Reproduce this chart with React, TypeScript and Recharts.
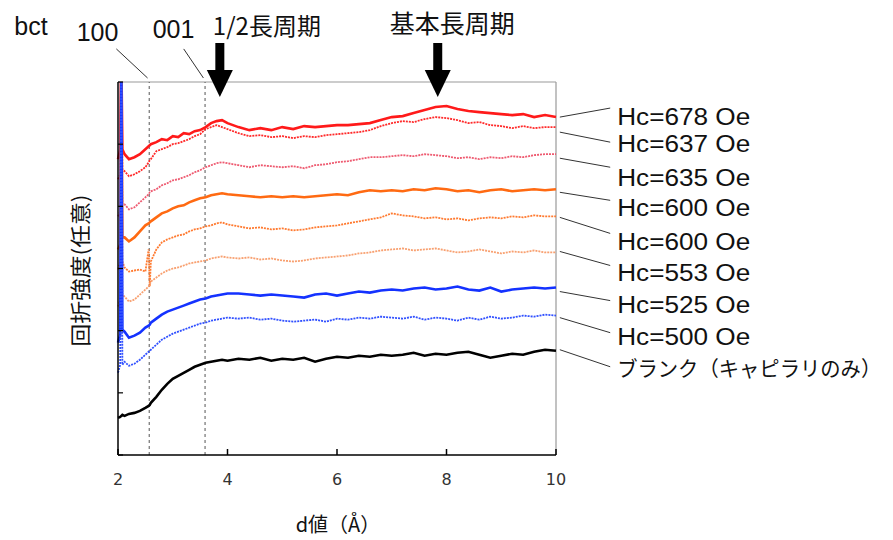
import React from "react";
import { LineChart, Line, XAxis, YAxis, ReferenceLine, ReferenceDot } from "recharts";

// d value (Å)
const D_VALUES = [
  2.0, 2.04, 2.06, 2.08, 2.12, 2.2, 2.3, 2.4, 2.5, 2.56, 2.58, 2.6, 2.7, 2.8, 2.9, 3.0, 3.1, 3.2, 3.3, 3.4,
  3.5, 3.6, 3.7, 3.8, 3.9, 4.0, 4.2, 4.4, 4.6, 4.8, 5.0, 5.2, 5.4, 5.6, 5.8, 6.0, 6.2, 6.4, 6.6, 6.8,
  7.0, 7.2, 7.4, 7.6, 7.8, 8.0, 8.2, 8.4, 8.6, 8.8, 9.0, 9.2, 9.4, 9.6, 9.8, 10.0,
];

// intensity (arb. units), offset stacked
const HC678 = [
  295, 305, 400, 305, 300, 295, 297, 300, 305, 308, 309, 310, 312, 315, 314, 318, 317, 321, 320, 323,
  324, 327, 331, 333, 334, 331, 327, 324, 326, 324, 327, 325, 328, 327, 328, 329, 329, 330, 331, 334,
  337, 338, 341, 344, 347, 348, 345, 343, 342, 341, 340, 339, 340, 337, 339, 337,
];
const HC637 = [
  275, 280, 400, 285, 283, 278, 280, 283, 287, 292, 294, 295, 303, 305, 307, 310, 311, 313, 315, 318,
  320, 325, 327, 329, 327, 325, 321, 318, 319, 317, 318, 316, 318, 317, 319, 320, 321, 322, 324, 328,
  331, 333, 332, 335, 337, 336, 334, 331, 332, 329, 328, 326, 328, 326, 327, 327,
];
const HC635 = [
  238, 243, 400, 250, 250, 245, 247, 252, 257, 260, 262, 263, 265, 269, 271, 274, 275, 277, 279, 282,
  284, 287, 289, 291, 292, 291, 289, 287, 289, 288, 287, 288, 286, 289, 290, 292, 293, 295, 297, 297,
  298, 299, 298, 300, 299, 298, 296, 297, 295, 297, 296, 298, 297, 299, 300, 300,
];
const HC600A = [
  205, 210, 400, 217, 217, 213, 217, 223, 229, 231, 232, 233, 237, 241, 243, 246, 248, 249, 252, 254,
  256, 257, 259, 260, 261, 260, 259, 258, 257, 258, 257, 258, 257, 258, 259, 260, 259, 262, 264, 263,
  264, 263, 265, 264, 266, 265, 263, 264, 262, 264, 265, 263, 264, 265, 264, 265,
];
const HC600B = [
  185, 193, 400, 193, 187, 183, 184, 185, 183, 205, 168, 193, 205, 212, 215, 217, 219, 220, 223, 225,
  226, 228, 229, 231, 232, 230, 228, 226, 227, 225, 226, 224, 225, 227, 228, 229, 231, 233, 235, 237,
  241, 239, 238, 236, 237, 235, 236, 234, 236, 237, 236, 238, 237, 239, 238, 238,
];
const HC553 = [
  148, 155, 400, 160, 158, 153, 155, 160, 165, 168, 170, 173, 177, 181, 184, 186, 187, 189, 191, 192,
  193, 194, 196, 197, 198, 197, 196, 197, 195, 196, 194, 193, 194, 196, 197, 198, 199, 201, 202, 204,
  205, 206, 204, 205, 206, 204, 202, 203, 205, 203, 201, 203, 202, 204, 202, 202,
];
const HC525 = [
  112, 120, 400, 125, 123, 117, 119, 122, 127, 129, 130, 132, 136, 140, 143, 145, 147, 149, 151, 153,
  155, 156, 158, 159, 160, 161, 161, 160, 159, 160, 159, 158, 157, 160, 161, 159, 161, 163, 162, 164,
  165, 164, 166, 167, 165, 166, 168, 165, 164, 167, 163, 165, 166, 167, 166, 167,
];
const HC500 = [
  82, 90, 400, 90, 93, 89, 91, 95, 100, 103, 104, 105, 110, 115, 118, 121, 123, 125, 127, 129,
  131, 132, 134, 135, 136, 137, 136, 137, 135, 136, 134, 133, 134, 135, 133, 136, 135, 137, 136, 138,
  137, 136, 138, 135, 137, 136, 134, 137, 135, 138, 136, 137, 139, 138, 140, 139,
];
const BLANK = [
  37, 38, 39, 40, 39, 41, 42, 44, 47, 49, 50, 52, 58, 65, 71, 76, 79, 82, 85, 88,
  90, 92, 93, 94, 95, 94, 96, 95, 97, 94, 96, 95, 97, 93, 96, 98, 97, 99, 98, 100,
  99, 100, 102, 99, 101, 100, 102, 103, 100, 97, 99, 101, 100, 103, 105, 104,
];

const X_TICKS = [2, 4, 6, 8, 10];
const Y_TICKS = [0, 62, 124, 186, 248, 310, 372];

const SERIES = [
  { key: "hc678", name: "Hc=678 Oe", values: HC678, color: "#ff1a1a", dashed: false },
  { key: "hc637", name: "Hc=637 Oe", values: HC637, color: "#ff2a2a", dashed: true },
  { key: "hc635", name: "Hc=635 Oe", values: HC635, color: "#ee5a70", dashed: true },
  { key: "hc600a", name: "Hc=600 Oe", values: HC600A, color: "#ff6a12", dashed: false },
  { key: "hc600b", name: "Hc=600 Oe", values: HC600B, color: "#ff7a30", dashed: true },
  { key: "hc553", name: "Hc=553 Oe", values: HC553, color: "#f8a070", dashed: true },
  { key: "hc525", name: "Hc=525 Oe", values: HC525, color: "#1432ff", dashed: false },
  { key: "hc500", name: "Hc=500 Oe", values: HC500, color: "#3050ff", dashed: true },
  { key: "blank", name: "ブランク（キャピラリのみ）", values: BLANK, color: "#000000", dashed: false },
];

// leader line: curve end value -> label value
const LEADER_FROM = [337, 322, 296, 262, 237, 203, 163, 137, 105];
const LEADER_TO = [346, 312, 287, 254, 221, 189, 154, 122, 88];
const LABEL_AT = [337, 310, 276, 246, 212, 182, 150, 118, 88];

const data = D_VALUES.map((d, i) => {
  const row: Record<string, number> = { d };
  SERIES.forEach((s) => {
    row[s.key] = s.values[i];
  });
  return row;
});

const JP = "'Noto Sans CJK JP', sans-serif";
const LATIN = "'Liberation Sans', Arial, 'Noto Sans CJK JP', sans-serif";

function XTick(props: any) {
  const { x, y, payload } = props;
  return (
    <g>
      <line x1={x} x2={x} y1={y} y2={y - 6} stroke="#000" strokeWidth={1.5} />
      <text x={x} y={y + 30} textAnchor="middle" fontSize={16} fontFamily="'DejaVu Sans', sans-serif" fill="#333">
        {payload.value}
      </text>
    </g>
  );
}

function YTick(props: any) {
  const { x, y } = props;
  return <line x1={x} x2={x + 5} y1={y} y2={y} stroke="#000" strokeWidth={1.2} />;
}

function Arrow({ cx, cy }: { cx: number; cy: number }) {
  return (
    <g>
      <rect x={cx - 4.5} y={cy - 39} width={9} height={28} fill="#000" />
      <polygon points={`${cx - 13},${cy - 12} ${cx + 13},${cy - 12} ${cx},${cy + 15}`} fill="#000" />
    </g>
  );
}

export default function App() {
  return (
    <div style={{ position: "absolute", left: 0, top: 0, background: "#fff" }}>
      <LineChart width={893} height={540} data={data} margin={{ top: 82, right: 337, bottom: 75, left: 108 }}>
        <XAxis
          dataKey="d"
          type="number"
          domain={[2, 10]}
          ticks={X_TICKS}
          height={10}
          tickSize={0}
          tickMargin={0}
          tick={<XTick />}
          axisLine={{ stroke: "#000", strokeWidth: 1.5 }}
          tickLine={false}
          label={{
            content: ({ viewBox }: any) => (
              <text
                x={viewBox.x + viewBox.width / 2 + 1}
                y={viewBox.y + 77}
                textAnchor="middle"
                fontSize={20}
                fontFamily={JP}
                fill="#111"
              >
                d値（Å）
              </text>
            ),
          }}
        />
        <YAxis
          type="number"
          domain={[0, 372]}
          ticks={Y_TICKS}
          allowDataOverflow
          width={10}
          tickSize={0}
          tickMargin={0}
          tick={<YTick />}
          axisLine={{ stroke: "#000", strokeWidth: 1.5 }}
          tickLine={false}
          label={{
            content: ({ viewBox }: any) => {
              const cx = viewBox.x + viewBox.width - 39;
              const cy = viewBox.y + viewBox.height / 2 + 2;
              return (
                <text
                  x={cx}
                  y={cy}
                  transform={`rotate(-90 ${cx} ${cy})`}
                  textAnchor="middle"
                  dominantBaseline="central"
                  fontSize={21}
                  textLength={152}
                  lengthAdjust="spacingAndGlyphs"
                  fontFamily={JP}
                  fill="#111"
                >
                  回折強度(任意)
                </text>
              );
            },
          }}
        />
        <ReferenceLine y={372} stroke="#999" strokeWidth={1.2} />
        <ReferenceLine x={10} stroke="#999" strokeWidth={1.2} />
        <ReferenceLine x={2.57} stroke="#555" strokeDasharray="3 3" />
        <ReferenceLine x={3.59} stroke="#555" strokeDasharray="3 3" />
        {SERIES.map((s) => (
          <Line
            key={s.key}
            dataKey={s.key}
            type="linear"
            stroke={s.color}
            strokeWidth={s.dashed ? 1.8 : 2.6}
            strokeDasharray={s.dashed ? "2 1" : undefined}
            dot={false}
            isAnimationActive={false}
          />
        ))}
        {/* peak leaders */}
        <ReferenceLine
          segment={[{ x: 1.97, y: 405 }, { x: 2.54, y: 376 }]}
          ifOverflow="visible"
          stroke="#333"
        />
        <ReferenceLine
          segment={[{ x: 3.2, y: 405 }, { x: 3.56, y: 376 }]}
          ifOverflow="visible"
          stroke="#333"
        />
        <ReferenceDot
          x={1.97}
          y={405}
          ifOverflow="visible"
          shape={(p: any) => (
            <g fontFamily={LATIN} fontSize={25} fill="#111">
              <text x={p.cx - 102} y={p.cy - 14}>bct</text>
              <text x={p.cx + 2} y={p.cy - 8} textAnchor="end">100</text>
            </g>
          )}
        />
        <ReferenceDot
          x={3.2}
          y={405}
          ifOverflow="visible"
          shape={(p: any) => (
            <text x={p.cx - 31} y={p.cy - 11} fontFamily={LATIN} fontSize={25} fill="#111">
              001
            </text>
          )}
        />
        <ReferenceDot
          x={3.86}
          y={372}
          ifOverflow="visible"
          shape={(p: any) => (
            <g>
              <Arrow cx={p.cx} cy={p.cy} />
              <text x={p.cx - 7} y={p.cy - 47} fontFamily={JP} fontSize={24} fill="#111">
                1/2長周期
              </text>
            </g>
          )}
        />
        <ReferenceDot
          x={7.84}
          y={372}
          ifOverflow="visible"
          shape={(p: any) => (
            <g>
              <Arrow cx={p.cx} cy={p.cy} />
              <text x={p.cx - 48} y={p.cy - 49} fontFamily={JP} fontSize={25} fill="#111">
                基本長周期
              </text>
            </g>
          )}
        />
        {/* series labels */}
        {SERIES.map((s, i) => (
          <ReferenceLine
            key={`lead-${s.key}`}
            segment={[{ x: 10.07, y: LEADER_FROM[i] }, { x: 10.99, y: LEADER_TO[i] }]}
            ifOverflow="visible"
            stroke="#333"
          />
        ))}
        {SERIES.map((s, i) => (
          <ReferenceDot
            key={`lab-${s.key}`}
            x={10.99}
            y={LABEL_AT[i]}
            ifOverflow="visible"
            shape={(p: any) => (
              <text
                x={p.cx + 7}
                y={p.cy}
                dominantBaseline="central"
                fontFamily={s.key === "blank" ? JP : LATIN}
                fontSize={s.key === "blank" ? 21 : 23}
                textLength={s.key === "blank" ? 264 : 133}
                lengthAdjust="spacingAndGlyphs"
                fill="#111"
              >
                {s.name}
              </text>
            )}
          />
        ))}
      </LineChart>
    </div>
  );
}
